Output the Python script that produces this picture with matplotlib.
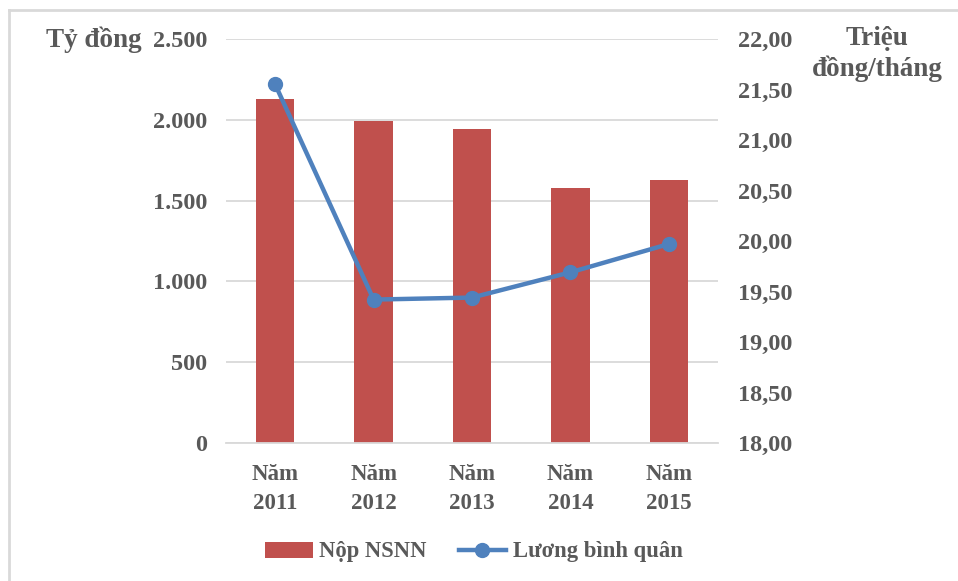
import matplotlib
matplotlib.use("Agg")
import matplotlib.pyplot as plt
from matplotlib.lines import Line2D
import numpy as np

# Data
years = ["Năm\n2011", "Năm\n2012", "Năm\n2013", "Năm\n2014", "Năm\n2015"]
nop_nsnn = [2130, 1995, 1940, 1575, 1630]          # Tỷ đồng
luong_binh_quan = [21.55, 19.42, 19.44, 19.69, 19.97]  # Triệu đồng/tháng
left_ticks = [0, 500, 1000, 1500, 2000, 2500]
left_tick_labels = ["0", "500", "1.000", "1.500", "2.000", "2.500"]
right_ticks = [18.0, 18.5, 19.0, 19.5, 20.0, 20.5, 21.0, 21.5, 22.0]
right_tick_labels = ["18,00", "18,50", "19,00", "19,50", "20,00",
                     "20,50", "21,00", "21,50", "22,00"]

TEXT = "#595959"
BAR = "#C0504D"
LINE = "#4F81BD"
GRID = "#D9D9D9"
FS_TICK = 17.5
FS_X = 16.5
FS_TITLE = 19.5
FS_LEG = 16.3

plt.rcParams["font.family"] = ["Liberation Serif", "DejaVu Serif"]
plt.rcParams["font.weight"] = "bold"

W, H = 958, 581
fig = plt.figure(figsize=(W / 100, H / 100), dpi=100)
ax = fig.add_axes([226 / W, 1 - 443 / H, (718 - 226) / W, (443 - 39) / H])

x = np.arange(len(years))
ax.bar(x, nop_nsnn, width=0.39, color=BAR, zorder=2, label="Nộp NSNN")
ax.set_xlim(-0.5, len(years) - 0.5)
ax.set_ylim(0, 2500)
ax.set_yticks(left_ticks)
ax.set_yticklabels(left_tick_labels)
ax.set_xticks(x)
ax.set_xticklabels(years, linespacing=1.5)
ax.yaxis.grid(True, color=GRID, linewidth=1.3, zorder=0)
ax.set_axisbelow(True)
for s in ["top", "right", "left"]:
    ax.spines[s].set_visible(False)
ax.spines["bottom"].set_color(GRID)
ax.spines["bottom"].set_linewidth(1.3)
ax.tick_params(axis="y", length=0, pad=13.5, labelsize=FS_TICK, labelcolor=TEXT)
ax.tick_params(axis="x", length=0, pad=15, labelsize=FS_X, labelcolor=TEXT)

ax2 = ax.twinx()
ax2.plot(x, luong_binh_quan, color=LINE, linewidth=3.2, marker="o",
         markersize=10, zorder=3, label="Lương bình quân")
ax2.set_ylim(18, 22)
ax2.set_yticks(right_ticks)
ax2.set_yticklabels(right_tick_labels)
for s in ["top", "right", "left", "bottom"]:
    ax2.spines[s].set_visible(False)
ax2.tick_params(axis="y", length=0, pad=14.5, labelsize=FS_TICK, labelcolor=TEXT)

# Axis titles
fig.text(94 / W, 1 - 40 / H, "Tỷ đồng", ha="center", va="center",
         fontsize=FS_TITLE, color=TEXT, fontweight="bold")
fig.text(877 / W, 1 - 54 / H, "Triệu\nđồng/tháng", ha="center", va="center",
         fontsize=FS_TITLE, color=TEXT, fontweight="bold", linespacing=1.22)

# Legend
h1, l1 = ax.get_legend_handles_labels()
h2, l2 = ax2.get_legend_handles_labels()
leg = fig.legend(h1 + h2, l1 + l2, loc="center", ncol=2, frameon=False,
                 bbox_to_anchor=(474 / W, 1 - 552 / H), fontsize=FS_LEG,
                 handlelength=2.1, handletextpad=0.3, columnspacing=1.4)
for t in leg.get_texts():
    t.set_color(TEXT)

# Frame lines along the top and left edges
fig.add_artist(Line2D([8.5 / W, 8.5 / W], [0, 1 - 10 / H], color="#D9D9D9",
                      linewidth=2, transform=fig.transFigure))
fig.add_artist(Line2D([8.5 / W, 1], [1 - 10 / H, 1 - 10 / H], color="#D9D9D9",
                      linewidth=2, transform=fig.transFigure))

fig.savefig("out.png", dpi=100)
